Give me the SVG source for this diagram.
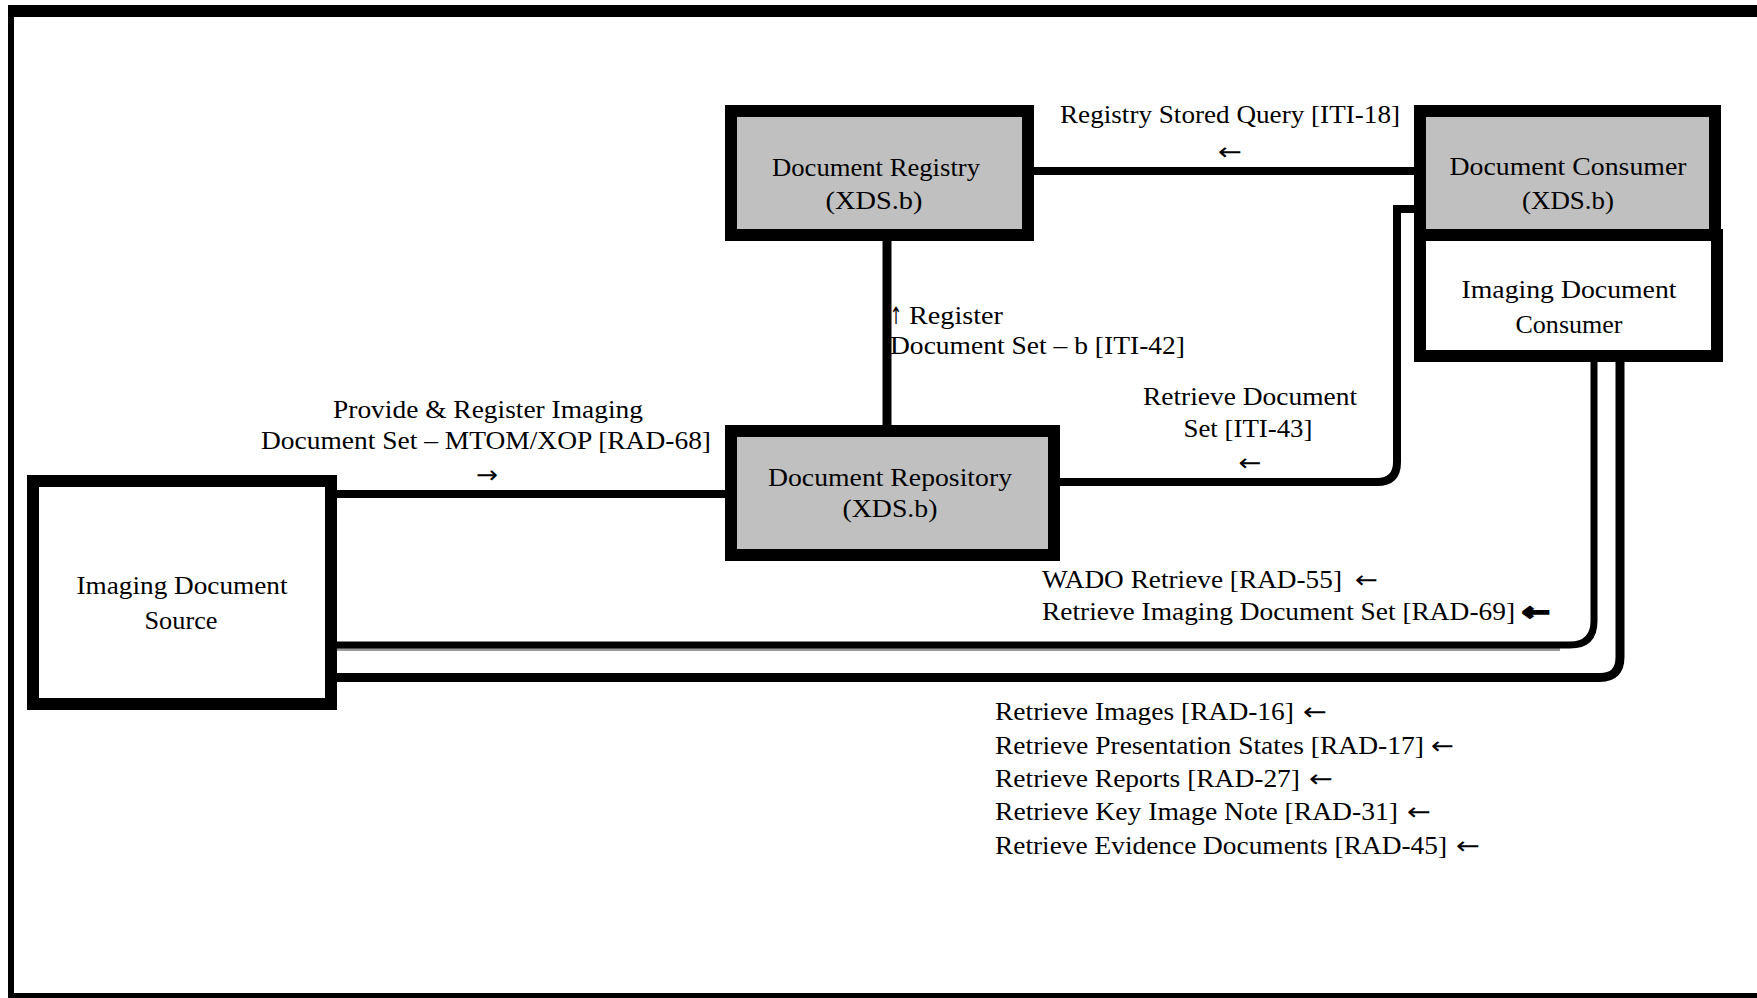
<svg xmlns="http://www.w3.org/2000/svg" width="1757" height="998" viewBox="0 0 1757 998">
<style>
.box{stroke:#000;stroke-width:12}
.grey{fill:#c0c0c0}
.white{fill:#fff}
.t{font-family:"Liberation Serif","Times New Roman",serif;font-size:26px;fill:#000}
.a{font-family:"DejaVu Sans",sans-serif;font-size:24px;fill:#000}
.m{text-anchor:middle}
.conn{fill:none;stroke:#000}
</style>
<rect width="1757" height="998" fill="#fff"/>
<g id="frame" fill="#000">
<rect x="8" y="5" width="1749" height="12"/>
<rect x="8" y="5" width="6" height="993"/>
<rect x="8" y="993" width="1749" height="5"/>
</g>
<g id="connectors">
<line class="conn" x1="1034" y1="171" x2="1414" y2="171" stroke-width="8"/>
<line class="conn" x1="887" y1="241" x2="887" y2="425" stroke-width="9"/>
<line class="conn" x1="337" y1="494" x2="725" y2="494" stroke-width="8"/>
<path class="conn" d="M1060 482 H1377 Q1397 482 1397 462 V209 H1414" stroke-width="8"/>
<rect x="1044" y="476" width="6" height="12" fill="#000"/>
<line x1="337" y1="649.5" x2="1560" y2="649.5" stroke="#999" stroke-width="3"/>
<path class="conn" d="M337 645 H1570 Q1594 645 1594 621 V362" stroke-width="7"/>
<path class="conn" d="M337 677.5 H1600 Q1620 677.5 1620 657 V362" stroke-width="9"/>
</g>
<g id="registry">
<rect class="box grey" x="731" y="111" width="297" height="124"/>
<text class="t m" x="876" y="176" textLength="208" lengthAdjust="spacingAndGlyphs">Document Registry</text>
<text class="t m" x="874" y="209" textLength="97" lengthAdjust="spacingAndGlyphs">(XDS.b)</text>
</g>
<g id="consumer">
<rect class="box grey" x="1420" y="111" width="295" height="124"/>
<text class="t m" x="1568" y="175" textLength="237" lengthAdjust="spacingAndGlyphs">Document Consumer</text>
<text class="t m" x="1568" y="209" textLength="92" lengthAdjust="spacingAndGlyphs">(XDS.b)</text>
</g>
<g id="imaging-consumer">
<rect class="box white" x="1420" y="235" width="297" height="121"/>
<text class="t m" x="1569" y="298" textLength="215" lengthAdjust="spacingAndGlyphs">Imaging Document</text>
<text class="t m" x="1569" y="333" textLength="107" lengthAdjust="spacingAndGlyphs">Consumer</text>
</g>
<g id="repository">
<rect class="box grey" x="731" y="431" width="323" height="124"/>
<text class="t m" x="890" y="486" textLength="244" lengthAdjust="spacingAndGlyphs">Document Repository</text>
<text class="t m" x="890" y="517" textLength="95" lengthAdjust="spacingAndGlyphs">(XDS.b)</text>
</g>
<g id="source">
<rect class="box white" x="33" y="481" width="298" height="223"/>
<text class="t m" x="182" y="594" textLength="211" lengthAdjust="spacingAndGlyphs">Imaging Document</text>
<text class="t m" x="181" y="629" textLength="73" lengthAdjust="spacingAndGlyphs">Source</text>
</g>
<g id="labels">
<text class="t" x="1060" y="123" textLength="340" lengthAdjust="spacingAndGlyphs">Registry Stored Query [ITI-18]</text>
<text class="a m" x="1230" y="160" textLength="24" lengthAdjust="spacingAndGlyphs">←</text>
<text class="a" x="890" y="324" textLength="12" lengthAdjust="spacingAndGlyphs">↑</text>
<text class="t" x="909" y="324" textLength="94" lengthAdjust="spacingAndGlyphs">Register</text>
<text class="t" x="890" y="354" textLength="295" lengthAdjust="spacingAndGlyphs">Document Set – b [ITI-42]</text>
<text class="t m" x="488" y="418" textLength="310" lengthAdjust="spacingAndGlyphs">Provide &amp; Register Imaging</text>
<text class="t m" x="486" y="449" textLength="450" lengthAdjust="spacingAndGlyphs">Document Set – MTOM/XOP [RAD-68]</text>
<text class="a m" x="487" y="483" textLength="22" lengthAdjust="spacingAndGlyphs">→</text>
<text class="t m" x="1250" y="405" textLength="214" lengthAdjust="spacingAndGlyphs">Retrieve Document</text>
<text class="t m" x="1248" y="437" textLength="129" lengthAdjust="spacingAndGlyphs">Set [ITI-43]</text>
<text class="a m" x="1250" y="471" textLength="23" lengthAdjust="spacingAndGlyphs">←</text>
<text class="t" x="1042" y="588" textLength="300" lengthAdjust="spacingAndGlyphs">WADO Retrieve [RAD-55]</text>
<text class="a" x="1355" y="588" textLength="23" lengthAdjust="spacingAndGlyphs">←</text>
<text class="t" x="1042" y="620" textLength="473" lengthAdjust="spacingAndGlyphs">Retrieve Imaging Document Set [RAD-69]</text>
<text class="a" x="1522" y="620" textLength="28" lengthAdjust="spacingAndGlyphs" font-weight="bold" stroke="#000" stroke-width="2">←</text>
<text class="t" x="995" y="720" textLength="299" lengthAdjust="spacingAndGlyphs">Retrieve Images [RAD-16]</text>
<text class="a" x="1303" y="720" textLength="24" lengthAdjust="spacingAndGlyphs">←</text>
<text class="t" x="995" y="754" textLength="429" lengthAdjust="spacingAndGlyphs">Retrieve Presentation States [RAD-17]</text>
<text class="a" x="1431" y="754" textLength="23" lengthAdjust="spacingAndGlyphs">←</text>
<text class="t" x="995" y="787" textLength="305" lengthAdjust="spacingAndGlyphs">Retrieve Reports [RAD-27]</text>
<text class="a" x="1309" y="787" textLength="24" lengthAdjust="spacingAndGlyphs">←</text>
<text class="t" x="995" y="820" textLength="403" lengthAdjust="spacingAndGlyphs">Retrieve Key Image Note [RAD-31]</text>
<text class="a" x="1407" y="820" textLength="24" lengthAdjust="spacingAndGlyphs">←</text>
<text class="t" x="995" y="854" textLength="452" lengthAdjust="spacingAndGlyphs">Retrieve Evidence Documents [RAD-45]</text>
<text class="a" x="1456" y="854" textLength="24" lengthAdjust="spacingAndGlyphs">←</text>
</g>
</svg>
